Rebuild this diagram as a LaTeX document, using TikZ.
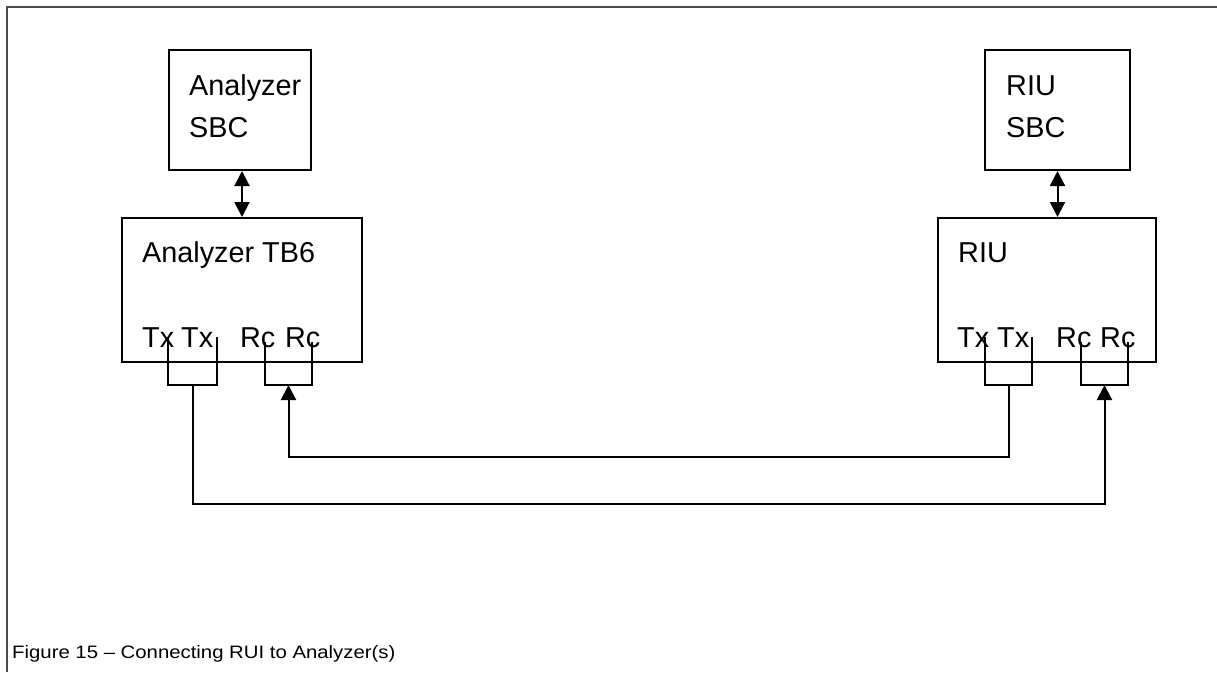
\documentclass[tikz,border=0pt]{standalone}
\usepackage{fontspec}
\setmainfont{Liberation Sans}
\newfontfamily\capfont[FakeStretch=1.13]{Liberation Sans}
\usetikzlibrary{arrows.meta}
\begin{document}
\begin{tikzpicture}[x=1pt,y=-1pt,
  box/.style={draw, line width=2pt, rectangle, anchor=north west, inner sep=0pt},
  lbl/.style={anchor=base west, inner sep=0pt, font=\fontsize{28.8}{34}\selectfont},
  caption/.style={anchor=base west, inner sep=0pt, font=\capfont\fontsize{18}{21}\selectfont},
  wire/.style={line width=2pt},
  tip/.style={-{Triangle[length=15pt,width=15pt]}},
  arr/.style={wire, tip},
  darr/.style={wire, {Triangle[length=15pt,width=15pt]}-{Triangle[length=15pt,width=15pt]}},
  frame/.style={draw=black!70, line width=2pt},
]
\useasboundingbox (0,0) rectangle (1217,672);

% page frame (only top and left edges fall inside)
\coordinate (fBL) at (7,672);
\coordinate (fTL) at (7,7);
\coordinate (fTR) at (1217,7);
\draw[frame] (fBL) -- (fTL) -- (fTR);

% boxes
\node[box, minimum width=142pt, minimum height=120pt] (sbcA) at (168,49) {};
\node[box, minimum width=240pt, minimum height=144pt] (tbA) at (121,217) {};
\node[box, minimum width=145pt, minimum height=120pt] (sbcR) at (984,49) {};
\node[box, minimum width=218pt, minimum height=144pt] (riu) at (937,217) {};

% box titles
\node[lbl] (sbcAt1) at (189,95) {Analyzer};
\node[lbl] (sbcAt2) at (189,137) {SBC};
\node[lbl] (tbAt) at (142,262) {Analyzer TB6};
\node[lbl] (sbcRt1) at (1006,95) {RIU};
\node[lbl] (sbcRt2) at (1006,137) {SBC};
\node[lbl] (riut) at (958,262) {RIU};

% terminal labels
\node[lbl] (aTxl1) at (142,347) {Tx};
\node[lbl] (aTxl2) at (181,347) {Tx};
\node[lbl] (aRcl1) at (240,347) {Rc};
\node[lbl] (aRcl2) at (285,347) {Rc};
\node[lbl] (rTxl1) at (957,347) {Tx};
\node[lbl] (rTxl2) at (997,347) {Tx};
\node[lbl] (rRcl1) at (1056,347) {Rc};
\node[lbl] (rRcl2) at (1100,347) {Rc};

% terminal pins and their bridging brackets
\coordinate (aT1) at (168,337);
\coordinate (aT2) at (217,337);
\coordinate (aR1) at (265,342);
\coordinate (aR2) at (312,342);
\coordinate (aTx) at (192.5,385);
\coordinate (aRc) at (288.5,385);
\coordinate (rT1) at (985,337);
\coordinate (rT2) at (1032,337);
\coordinate (rR1) at (1081,342);
\coordinate (rR2) at (1128,342);
\coordinate (rTx) at (1008.5,385);
\coordinate (rRc) at (1104.5,385);

\draw[wire] (aT1) |- (aTx) -| (aT2);
\draw[wire] (aR1) |- (aRc) -| (aR2);
\draw[wire] (rT1) |- (rTx) -| (rT2);
\draw[wire] (rR1) |- (rRc) -| (rR2);

% SBC links
\draw[darr] (sbcA.south -| tbA.north) -- (tbA.north);
\draw[darr] (sbcR.south) -- (sbcR.south |- riu.north);

% serial cross-over wiring
\coordinate (busRc) at (0,457);
\coordinate (busTx) at (0,504);
\draw[arr] (rTx) -- (rTx |- busRc) -| (aRc);
\draw[arr] (aTx) -- (aTx |- busTx) -| (rRc);

% caption
\node[caption] (cap) at (12,658) {Figure 15 – Connecting RUI to Analyzer(s)};
\end{tikzpicture}
\end{document}
